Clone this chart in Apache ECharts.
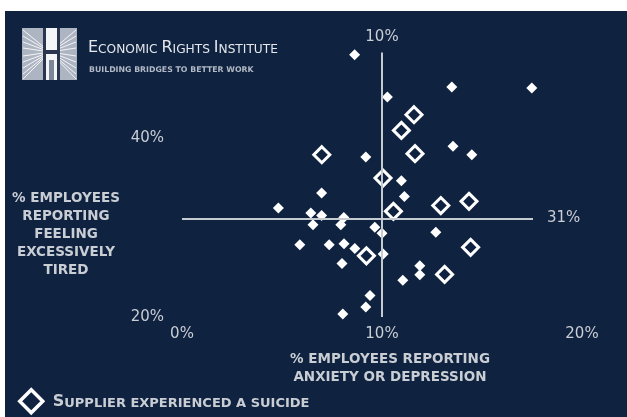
<!DOCTYPE html>
<html>
<head>
<meta charset="utf-8">
<script src="https://cdn.jsdelivr.net/npm/echarts@6/dist/echarts.min.js"></script>
<style>html,body{margin:0;padding:0;background:#fff;}#c{width:627px;height:417px;}</style>
</head>
<body>
<div id="c"></div>
<script>
// ---- data ----
const suppliersX = [8.63, 13.49, 17.49, 10.27, 13.55, 14.49, 9.19, 10.97, 6.98, 11.12, 4.82, 6.44, 6.98, 8.09, 6.55, 7.94, 9.64, 10.0, 12.69, 5.89, 7.36, 8.10, 8.64, 10.06, 8.0, 11.89, 11.89, 11.04, 9.40, 9.19, 8.04];
const suppliersY = [49.26, 45.64, 45.53, 44.53, 39.03, 38.10, 37.84, 35.20, 33.82, 33.45, 32.17, 31.59, 31.31, 31.11, 30.30, 30.30, 30.02, 29.33, 29.44, 28.07, 28.07, 28.16, 27.65, 27.02, 25.98, 25.72, 24.72, 24.09, 22.41, 21.11, 20.33];
const suicideX = [11.6, 10.97, 11.65, 6.99, 10.05, 14.35, 12.94, 10.57, 14.43, 9.22, 13.13];
const suicideY = [42.56, 40.81, 38.22, 38.10, 35.49, 32.90, 32.43, 31.78, 27.77, 26.82, 24.75];
const crossX = 10;      // % anxiety or depression (reference line)
const crossY = 31;      // % excessively tired (reference line)
const xTicks = [0, 10, 20];
const yTicks = [20, 40];
const xTitle = ['% EMPLOYEES REPORTING', 'ANXIETY OR DEPRESSION'];
const yTitle = ['% EMPLOYEES', 'REPORTING', 'FEELING', 'EXCESSIVELY', 'TIRED'];
const legendName = 'Supplier experienced a suicide';

// ---- styles ----
const NAVY = '#0f2240';
const TXT = '#c9cdd4';
const LINE = '#c6cad1';
const FONT = 'DejaVu Sans';

const chart = echarts.init(document.getElementById('c'), null, {renderer: 'canvas'});

const pts = (xs, ys) => xs.map((x, i) => [x, ys[i]]);

// logo rays
const rays = [];
const cx = 50, cy = 52;
[30, 36, 42, 48, 56, 62, 68, 74, 79].forEach(y => {
  rays.push({type: 'line', shape: {x1: cx, y1: cy, x2: 23, y2: y}, style: {stroke: '#ffffff', lineWidth: 1, opacity: 0.85}, silent: true});
  rays.push({type: 'line', shape: {x1: cx, y1: cy, x2: 76, y2: y}, style: {stroke: '#ffffff', lineWidth: 1, opacity: 0.85}, silent: true});
});

chart.setOption({
  backgroundColor: NAVY,
  animation: false,
  grid: {left: 182, right: 45, top: 48, bottom: 100, containLabel: false},
  xAxis: {
    type: 'value', min: xTicks[0], max: xTicks[xTicks.length - 1], interval: 10,
    axisLine: {show: false}, axisTick: {show: false}, splitLine: {show: false},
    axisLabel: {formatter: v => xTicks.includes(v) ? v + '%' : '', color: TXT, fontFamily: FONT, fontSize: 15, margin: 10}
  },
  yAxis: {
    type: 'value', min: 20, max: 50, interval: 20,
    axisLine: {show: false}, axisTick: {show: false}, splitLine: {show: false},
    axisLabel: {formatter: v => yTicks.includes(v) ? v + '%' : '', color: TXT, fontFamily: FONT, fontSize: 15, margin: 18, showMaxLabel: false}
  },
  legend: {
    data: [legendName], left: 18, top: 388, padding: 0,
    icon: 'diamond', itemWidth: 23, itemHeight: 23,
    itemStyle: {color: NAVY, borderColor: '#ffffff', borderWidth: 3.5, opacity: 1},
    formatter: () => '{b|S}{s|UPPLIER EXPERIENCED A SUICIDE}',
    textStyle: {
      color: TXT, padding: [0, 0, 0, 5],
      rich: {
        b: {fontFamily: FONT, fontSize: 16, fontWeight: 'bold', color: TXT, verticalAlign: 'bottom', lineHeight: 18},
        s: {fontFamily: FONT, fontSize: 13, fontWeight: 'bold', color: TXT, verticalAlign: 'bottom', lineHeight: 18}
      }
    }
  },
  series: [
    {
      name: 'Suppliers', type: 'scatter', symbol: 'diamond', symbolSize: 11, z: 2,
      itemStyle: {color: '#ffffff', opacity: 1},
      data: pts(suppliersX, suppliersY),
      markLine: {
        silent: true, symbol: 'none', animation: false,
        lineStyle: {color: LINE, width: 2, type: 'solid', opacity: 1},
        label: {show: true, position: 'end', color: TXT, fontFamily: FONT, fontSize: 15},
        data: [
          [{coord: [crossX, 20]}, {coord: [crossX, 49.5], label: {formatter: crossX + '%', distance: 8}}],
          [{coord: [0, crossY]}, {coord: [17.55, crossY], label: {formatter: crossY + '%', distance: 14}}]
        ]
      }
    },
    {
      name: legendName, type: 'scatter', symbol: 'diamond', symbolSize: 16, z: 3,
      itemStyle: {color: NAVY, borderColor: '#ffffff', borderWidth: 3, opacity: 1},
      data: pts(suicideX, suicideY)
    }
  ],
  graphic: [
    {type: 'rect', shape: {x: 0, y: 0, width: 627, height: 11}, style: {fill: '#ffffff'}, silent: true},
    {type: 'rect', shape: {x: 0, y: 0, width: 5, height: 417}, style: {fill: '#ffffff'}, silent: true},
    // logo
    {type: 'group', silent: true, children: [
      {type: 'rect', shape: {x: 22, y: 28, width: 55, height: 52}, style: {fill: '#aeb5c2'}},
      ...rays,
      {type: 'rect', shape: {x: 46, y: 28, width: 11, height: 52}, style: {fill: '#f4f5f7'}},
      {type: 'rect', shape: {x: 43, y: 28, width: 3, height: 52}, style: {fill: '#2a3550'}},
      {type: 'rect', shape: {x: 57, y: 28, width: 3, height: 52}, style: {fill: '#2a3550'}},
      {type: 'rect', shape: {x: 43, y: 50, width: 17, height: 4}, style: {fill: '#2a3550'}},
      {type: 'rect', shape: {x: 49, y: 60, width: 5, height: 20}, style: {fill: '#7d8799'}}
    ]},
    {type: 'text', left: 88, top: 40, silent: true, style: {
      text: '{b|E}{s|CONOMIC }{b|R}{s|IGHTS }{b|I}{s|NSTITUTE}',
      rich: {
        b: {fontFamily: FONT, fontSize: 16, fill: '#e4e7ec', verticalAlign: 'bottom', lineHeight: 17},
        s: {fontFamily: FONT, fontSize: 12.2, fill: '#e4e7ec', verticalAlign: 'bottom', lineHeight: 17}
      }
    }},
    {type: 'text', left: 89, top: 66, silent: true, style: {
      text: 'BUILDING BRIDGES TO BETTER WORK', fontFamily: FONT, fontSize: 7.8, fontWeight: 'bold', fill: '#b3bac6'
    }},
    // axis titles
    {type: 'text', x: 390, y: 350, silent: true, style: {
      text: xTitle.join('\n'), fontFamily: FONT, fontSize: 13.5, fontWeight: 'bold', fill: TXT,
      align: 'center', verticalAlign: 'top', lineHeight: 18
    }},
    {type: 'text', x: 66, y: 190, silent: true, style: {
      text: yTitle.join('\n'), fontFamily: FONT, fontSize: 13.5, fontWeight: 'bold', fill: TXT,
      align: 'center', verticalAlign: 'top', lineHeight: 17.8
    }}
  ]
});
</script>
</body>
</html>
